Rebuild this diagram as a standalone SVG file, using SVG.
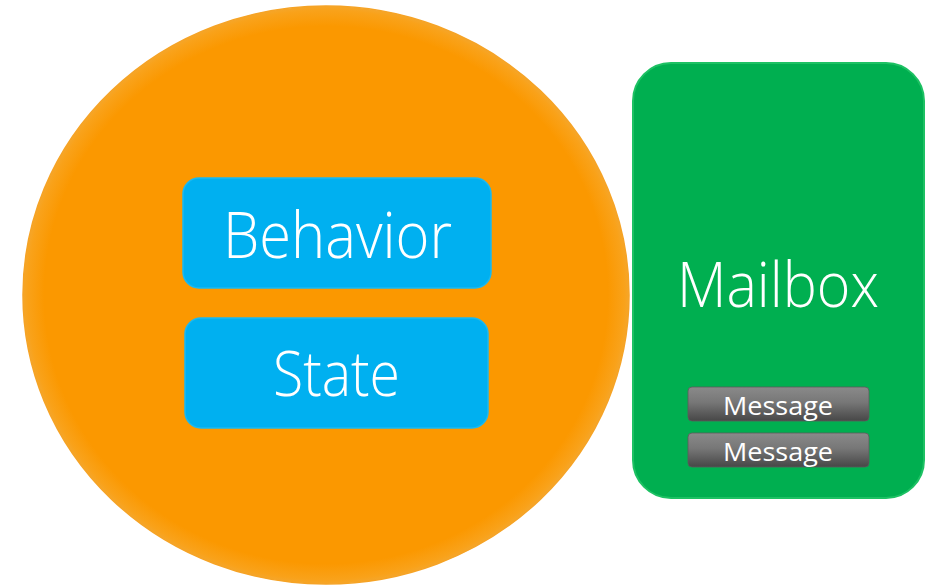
<svg xmlns="http://www.w3.org/2000/svg" width="931" height="585" viewBox="0 0 931 585">
<defs>
<linearGradient id="msgGrad" x1="0" y1="0" x2="0" y2="1">
<stop offset="0" stop-color="#8a8a8a"/>
<stop offset="0.45" stop-color="#777777"/>
<stop offset="1" stop-color="#474747"/>
</linearGradient>
<radialGradient id="orangeGrad" cx="0.5" cy="0.5" r="0.5">
<stop offset="0.93" stop-color="#FB9800"/>
<stop offset="0.985" stop-color="#F9A21A"/>
<stop offset="1" stop-color="#F5A62A"/>
</radialGradient>
<style>
.light{font-family:"Open Sans","Segoe UI","Liberation Sans",sans-serif;font-weight:300;fill:#ffffff;text-anchor:middle}
.msg{font-family:"Open Sans","Liberation Sans",sans-serif;font-weight:400;fill:#ffffff;text-anchor:middle;font-size:26px}
.blue{fill:#00B0F0;stroke:#19B9F2;stroke-width:1.5}
.msgbox{fill:url(#msgGrad);stroke:#5a5a5a;stroke-width:0.8}
</style>
</defs>
<rect width="931" height="585" fill="#ffffff"/>
<g id="actor">
<ellipse cx="326" cy="295" rx="303" ry="289" fill="url(#orangeGrad)" stroke="#F6A325" stroke-width="1.5"/>
</g>
<g id="behavior">
<rect class="blue" x="183" y="178" width="308" height="110" rx="16"/>
<text class="light" x="337.5" y="258" font-size="64" textLength="229" lengthAdjust="spacingAndGlyphs">Behavior</text>
</g>
<g id="state">
<rect class="blue" x="185" y="318" width="303" height="110" rx="16"/>
<text class="light" x="336.5" y="396" font-size="62" textLength="127" lengthAdjust="spacingAndGlyphs">State</text>
</g>
<g id="mailbox">
<rect x="633" y="63" width="291" height="435" rx="38" fill="#00AF50" stroke="#1DC163" stroke-width="2"/>
<text class="light" x="778" y="307" font-size="62" textLength="202" lengthAdjust="spacingAndGlyphs">Mailbox</text>
</g>
<g id="message1">
<rect class="msgbox" x="688" y="387" width="181" height="34" rx="4"/>
<text class="msg" x="778" y="415" textLength="110" lengthAdjust="spacingAndGlyphs">Message</text>
</g>
<g id="message2">
<rect class="msgbox" x="688" y="433" width="181" height="34" rx="4"/>
<text class="msg" x="778" y="461" textLength="110" lengthAdjust="spacingAndGlyphs">Message</text>
</g>
<g id="connectors"/>
</svg>
